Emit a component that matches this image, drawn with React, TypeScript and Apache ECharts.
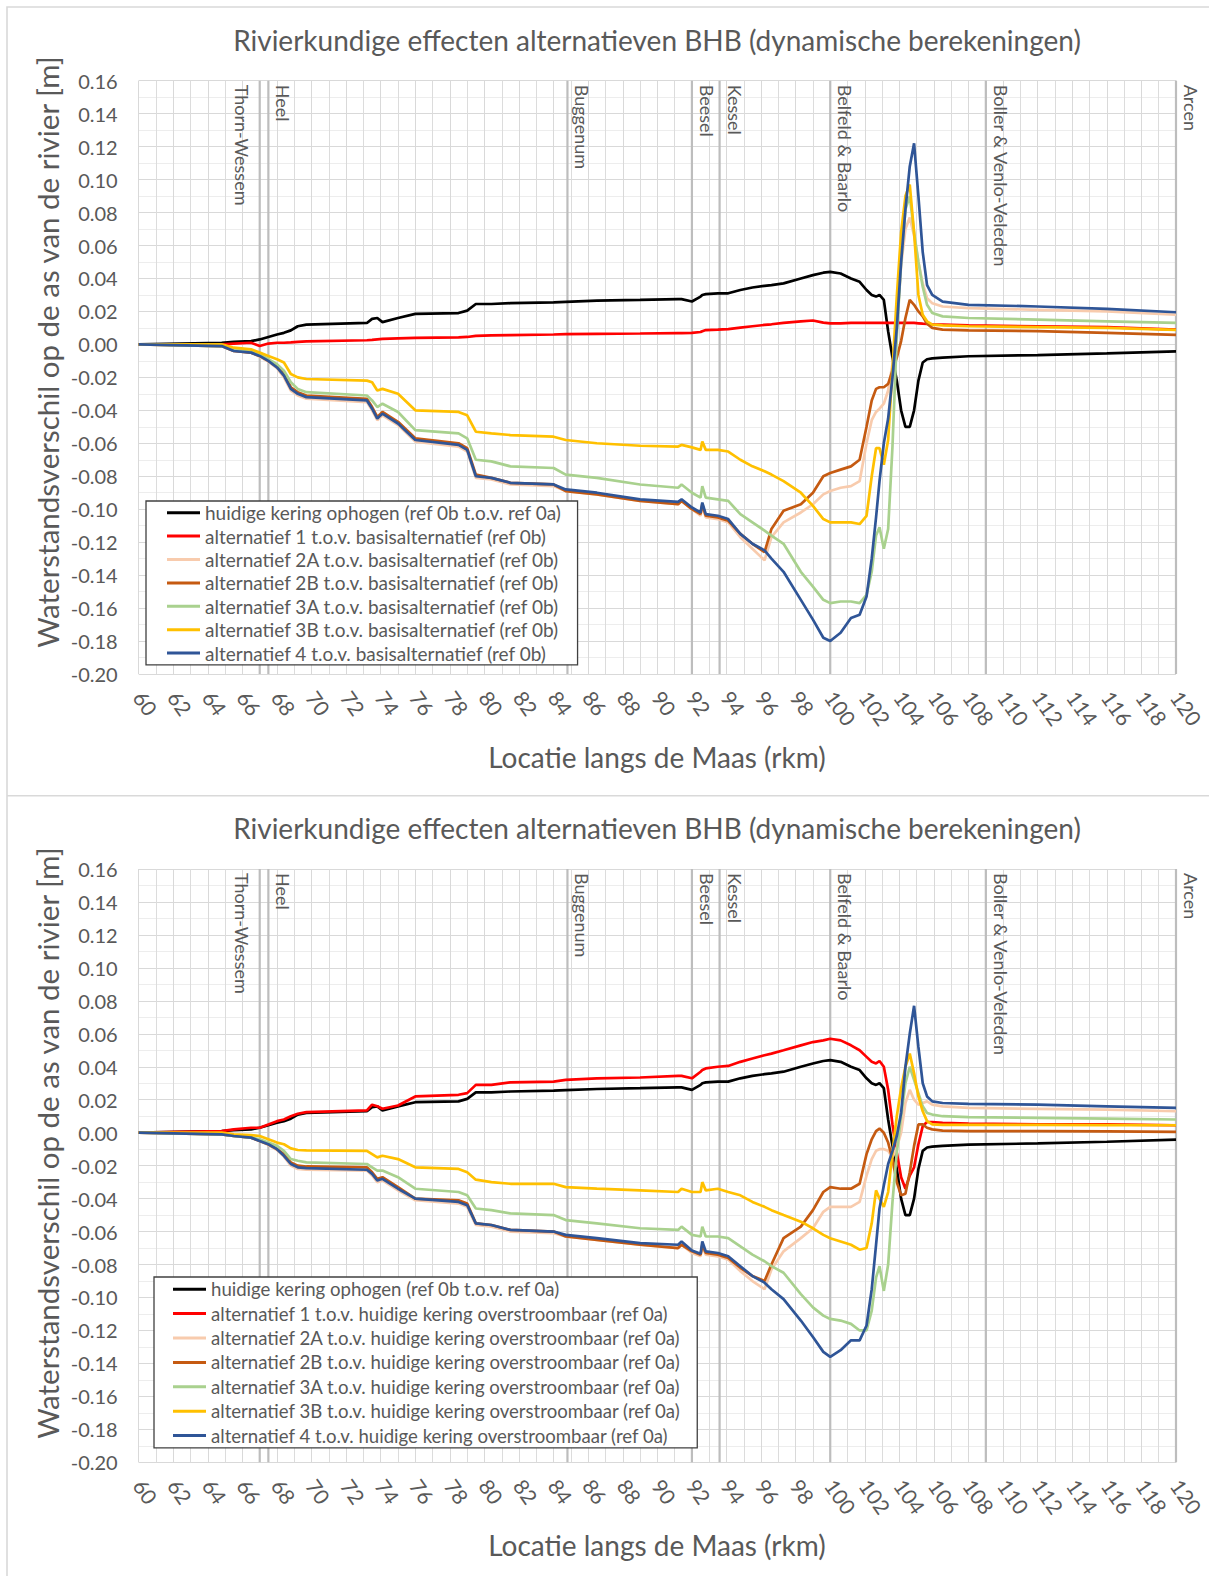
import React, { useEffect, useRef } from 'react';
import * as echarts from 'echarts';

// ---------- data ----------
const rkm = [
  60, 64.8, 65.5, 66.5, 67.0, 67.5, 68.0, 68.4, 68.8, 69.2,
  69.7, 73.2, 73.5, 73.8, 74.1, 75.0, 76.0, 78.5, 79.0, 79.5,
  80.4, 81.5, 84.0, 84.7, 86.5, 89.0, 91.2, 91.4, 92.0, 92.5,
  92.6, 92.8, 93.5, 94.1, 94.8, 95.5, 96.2, 96.6, 97.3, 98.3,
  99.0, 99.6, 100.0, 100.6, 101.2, 101.7, 102.1, 102.4, 102.65, 102.85,
  103.1, 103.35, 103.6, 103.85, 104.1, 104.35, 104.6, 104.85, 105.1, 105.35,
  105.6, 105.9, 106.5, 108, 112, 116, 120,
];

// black: huidige kering ophogen (same in both charts)
const keringOphogen = [
  0.0, 0.001, 0.0015, 0.002, 0.003, 0.0045, 0.006, 0.007, 0.0085, 0.011,
  0.012, 0.013, 0.0155, 0.016, 0.0135, 0.016, 0.0185, 0.019, 0.0205, 0.0245,
  0.0245, 0.025, 0.0255, 0.0258, 0.0265, 0.027, 0.0275, 0.0275, 0.026, 0.029,
  0.030, 0.0305, 0.031, 0.031, 0.033, 0.0345, 0.0355, 0.036, 0.037, 0.040,
  0.042, 0.0435, 0.044, 0.043, 0.040, 0.038, 0.033, 0.030, 0.029, 0.030,
  0.027, 0.008, -0.008, -0.022, -0.040, -0.050, -0.050, -0.040, -0.022, -0.011,
  -0.009, -0.0085, -0.008, -0.0072, -0.0065, -0.0055, -0.0042,
];

// top chart: t.o.v. basisalternatief (ref 0b)
const alt1Basis = [
  0, 0, 0.0005, 0.001, -0.001, 0.0005, 0.001, 0.001, 0.0012, 0.0015,
  0.0018, 0.0025, 0.0027, 0.003, 0.0033, 0.0037, 0.004, 0.0043, 0.0045, 0.0052,
  0.0055, 0.0056, 0.006, 0.0062, 0.0064, 0.0066, 0.0068, 0.0068, 0.007, 0.0075,
  0.008, 0.0087, 0.009, 0.0093, 0.0102, 0.011, 0.0118, 0.0122, 0.013, 0.014,
  0.0145, 0.0132, 0.0128, 0.0128, 0.013, 0.013, 0.013, 0.013, 0.013, 0.013,
  0.013, 0.013, 0.013, 0.013, 0.013, 0.013, 0.013, 0.013, 0.0128, 0.0126,
  0.0125, 0.0122, 0.012, 0.0115, 0.011, 0.0105, 0.009,
];
const alt2ABasis = [
  0, -0.001, -0.004, -0.005, -0.0075, -0.0105, -0.0145, -0.020, -0.028, -0.031,
  -0.033, -0.035, -0.040, -0.046, -0.043, -0.049, -0.059, -0.062, -0.065, -0.081,
  -0.082, -0.085, -0.086, -0.089, -0.091, -0.095, -0.097, -0.095, -0.100, -0.104,
  -0.098, -0.105, -0.106, -0.108, -0.117, -0.124, -0.131, -0.117, -0.108, -0.102,
  -0.097, -0.091, -0.089, -0.087, -0.086, -0.083, -0.060, -0.046, -0.041, -0.039,
  -0.036, -0.028, -0.012, 0.010, 0.048, 0.070, 0.077, 0.066, 0.050, 0.037,
  0.028, 0.025, 0.023, 0.022, 0.021, 0.020, 0.018,
];
const alt2BBasis = [
  0, -0.001, -0.004, -0.005, -0.007, -0.010, -0.0135, -0.018, -0.026, -0.029,
  -0.031, -0.033, -0.038, -0.044, -0.041, -0.047, -0.057, -0.060, -0.063, -0.079,
  -0.081, -0.084, -0.085, -0.089, -0.091, -0.095, -0.097, -0.095, -0.100, -0.103,
  -0.097, -0.104, -0.105, -0.107, -0.115, -0.121, -0.126, -0.112, -0.101, -0.097,
  -0.090, -0.080, -0.078, -0.076, -0.074, -0.070, -0.050, -0.034, -0.027, -0.026,
  -0.026, -0.024, -0.016, -0.008, 0.002, 0.016, 0.027, 0.024, 0.020, 0.017,
  0.0125, 0.010, 0.009, 0.0085, 0.008, 0.007, 0.0058,
];
const alt3ABasis = [
  0, -0.001, -0.003, -0.004, -0.006, -0.009, -0.012, -0.016, -0.023, -0.027,
  -0.029, -0.031, -0.034, -0.038, -0.036, -0.041, -0.052, -0.054, -0.057, -0.070,
  -0.071, -0.074, -0.075, -0.079, -0.081, -0.085, -0.087, -0.085, -0.090, -0.093,
  -0.086, -0.093, -0.094, -0.095, -0.103, -0.108, -0.113, -0.116, -0.121, -0.138,
  -0.147, -0.155, -0.157, -0.156, -0.156, -0.157, -0.152, -0.138, -0.116, -0.111,
  -0.124, -0.112, -0.062, 0.005, 0.050, 0.082, 0.090, 0.068, 0.050, 0.035,
  0.024, 0.019, 0.017, 0.016, 0.015, 0.014, 0.013,
];
const alt3BBasis = [
  0, 0, -0.002, -0.003, -0.005, -0.007, -0.009, -0.011, -0.018, -0.020,
  -0.021, -0.022, -0.023, -0.028, -0.027, -0.030, -0.040, -0.041, -0.043, -0.053,
  -0.054, -0.055, -0.056, -0.058, -0.060, -0.0615, -0.062, -0.061, -0.0625, -0.064,
  -0.059, -0.064, -0.064, -0.065, -0.070, -0.074, -0.077, -0.079, -0.083, -0.090,
  -0.098, -0.106, -0.108, -0.108, -0.108, -0.109, -0.104, -0.080, -0.063, -0.063,
  -0.073, -0.058, -0.015, 0.029, 0.068, 0.090, 0.097, 0.068, 0.030, 0.018,
  0.014, 0.012, 0.0115, 0.011, 0.0105, 0.010, 0.0088,
];
const alt4Basis = [
  0, -0.001, -0.004, -0.005, -0.007, -0.010, -0.014, -0.019, -0.027, -0.030,
  -0.032, -0.034, -0.039, -0.045, -0.042, -0.048, -0.058, -0.061, -0.064, -0.080,
  -0.081, -0.084, -0.085, -0.088, -0.090, -0.094, -0.0955, -0.094, -0.099, -0.102,
  -0.096, -0.103, -0.104, -0.106, -0.115, -0.121, -0.125, -0.130, -0.138, -0.155,
  -0.167, -0.178, -0.180, -0.175, -0.166, -0.164, -0.153, -0.130, -0.105, -0.083,
  -0.060, -0.045, -0.020, 0.010, 0.050, 0.082, 0.108, 0.122, 0.090, 0.056,
  0.036, 0.030, 0.026, 0.024, 0.023, 0.0215, 0.0195,
];

// bottom chart: t.o.v. huidige kering overstroombaar (ref 0a)
const alt1Ref0a = [
  0, 0.001, 0.002, 0.003, 0.003, 0.005, 0.007, 0.008, 0.010, 0.0115,
  0.0125, 0.0135, 0.017, 0.016, 0.0145, 0.0165, 0.022, 0.023, 0.024, 0.029,
  0.029, 0.0305, 0.031, 0.032, 0.033, 0.0335, 0.0345, 0.0345, 0.033, 0.037,
  0.038, 0.039, 0.040, 0.0405, 0.043, 0.045, 0.047, 0.048, 0.050, 0.053,
  0.055, 0.056, 0.057, 0.056, 0.053, 0.050, 0.046, 0.043, 0.042, 0.0435,
  0.040, 0.026, 0.005, -0.012, -0.027, -0.034, -0.026, -0.021, -0.007, 0.004,
  0.0065, 0.0065, 0.006, 0.0055, 0.005, 0.005, 0.0045,
];
const alt2ARef0a = [
  0, -0.001, -0.002, -0.003, -0.005, -0.0075, -0.0105, -0.0145, -0.020, -0.022,
  -0.0225, -0.023, -0.026, -0.030, -0.029, -0.035, -0.041, -0.043, -0.045, -0.056,
  -0.057, -0.060, -0.061, -0.063, -0.065, -0.068, -0.070, -0.068, -0.073, -0.075,
  -0.069, -0.074, -0.075, -0.077, -0.084, -0.090, -0.095, -0.083, -0.072, -0.064,
  -0.058, -0.048, -0.045, -0.045, -0.045, -0.042, -0.026, -0.016, -0.011, -0.010,
  -0.010, -0.011, -0.015, -0.009, 0.000, 0.018, 0.026, 0.020, 0.017, 0.018,
  0.019, 0.017, 0.016, 0.015, 0.0145, 0.014, 0.013,
];
const alt2BRef0a = [
  0, -0.001, -0.002, -0.003, -0.005, -0.007, -0.010, -0.013, -0.018, -0.020,
  -0.0205, -0.021, -0.024, -0.028, -0.027, -0.033, -0.040, -0.041, -0.043, -0.055,
  -0.056, -0.059, -0.060, -0.063, -0.065, -0.068, -0.070, -0.068, -0.072, -0.074,
  -0.068, -0.073, -0.074, -0.076, -0.082, -0.087, -0.090, -0.080, -0.064, -0.057,
  -0.047, -0.036, -0.033, -0.034, -0.034, -0.031, -0.013, -0.004, 0.001, 0.0025,
  0.000, -0.006, -0.016, -0.030, -0.038, -0.037, -0.024, -0.008, 0.005, 0.005,
  0.003, 0.002, 0.0013, 0.001, 0.001, 0.0008, 0.0005,
];
const alt3ARef0a = [
  0, -0.001, -0.002, -0.003, -0.004, -0.006, -0.008, -0.011, -0.016, -0.017,
  -0.018, -0.019, -0.021, -0.023, -0.023, -0.027, -0.034, -0.036, -0.038, -0.046,
  -0.047, -0.049, -0.050, -0.053, -0.055, -0.058, -0.059, -0.057, -0.062, -0.063,
  -0.057, -0.063, -0.063, -0.064, -0.069, -0.074, -0.078, -0.081, -0.085, -0.098,
  -0.106, -0.111, -0.113, -0.114, -0.116, -0.120, -0.120, -0.108, -0.088, -0.081,
  -0.096, -0.080, -0.042, -0.012, 0.010, 0.030, 0.040, 0.032, 0.024, 0.016,
  0.012, 0.011, 0.010, 0.0095, 0.009, 0.0085, 0.008,
];
const alt3BRef0a = [
  0, 0, -0.001, -0.0015, -0.002, -0.004, -0.006, -0.007, -0.0095, -0.0105,
  -0.0107, -0.011, -0.013, -0.015, -0.014, -0.016, -0.021, -0.022, -0.024, -0.0285,
  -0.030, -0.031, -0.031, -0.033, -0.034, -0.035, -0.036, -0.034, -0.036, -0.036,
  -0.030, -0.035, -0.034, -0.036, -0.038, -0.042, -0.045, -0.047, -0.050, -0.054,
  -0.058, -0.062, -0.064, -0.066, -0.068, -0.071, -0.070, -0.055, -0.035, -0.040,
  -0.045, -0.036, -0.012, 0.010, 0.027, 0.040, 0.048, 0.036, 0.022, 0.013,
  0.007, 0.005, 0.0048, 0.0048, 0.0047, 0.0046, 0.0045,
];
const alt4Ref0a = [
  0, -0.001, -0.002, -0.003, -0.005, -0.007, -0.010, -0.014, -0.019, -0.021,
  -0.0215, -0.0225, -0.025, -0.029, -0.028, -0.034, -0.040, -0.042, -0.044, -0.055,
  -0.056, -0.059, -0.060, -0.062, -0.064, -0.067, -0.068, -0.066, -0.0715, -0.0735,
  -0.066, -0.072, -0.073, -0.075, -0.081, -0.087, -0.091, -0.095, -0.101, -0.114,
  -0.124, -0.133, -0.136, -0.132, -0.126, -0.126, -0.117, -0.095, -0.068, -0.046,
  -0.032, -0.019, -0.011, -0.002, 0.012, 0.040, 0.060, 0.077, 0.052, 0.030,
  0.022, 0.019, 0.018, 0.0175, 0.017, 0.016, 0.015,
];

const topNames = [
  'huidige kering ophogen (ref 0b t.o.v. ref 0a)',
  'alternatief 1 t.o.v. basisalternatief (ref 0b)',
  'alternatief 2A t.o.v. basisalternatief (ref 0b)',
  'alternatief 2B t.o.v. basisalternatief (ref 0b)',
  'alternatief 3A t.o.v. basisalternatief (ref 0b)',
  'alternatief 3B t.o.v. basisalternatief (ref 0b)',
  'alternatief 4 t.o.v. basisalternatief (ref 0b)',
];
const bottomNames = [
  'huidige kering ophogen (ref 0b t.o.v. ref 0a)',
  'alternatief 1 t.o.v. huidige kering overstroombaar (ref 0a)',
  'alternatief 2A t.o.v. huidige kering overstroombaar (ref 0a)',
  'alternatief 2B t.o.v. huidige kering overstroombaar (ref 0a)',
  'alternatief 3A t.o.v. huidige kering overstroombaar (ref 0a)',
  'alternatief 3B t.o.v. huidige kering overstroombaar (ref 0a)',
  'alternatief 4 t.o.v. huidige kering overstroombaar (ref 0a)',
];

const locationNames = ['Thorn-Wessem', 'Heel', 'Buggenum', 'Beesel', 'Kessel', 'Belfeld & Baarlo', 'Boller & Venlo-Veleden', 'Arcen'];
const locationKm = [67.0, 67.5, 84.8, 92.0, 93.6, 100.0, 109.0, 120.0];

const chartTitle = 'Rivierkundige effecten alternatieven BHB (dynamische berekeningen)';
const yAxisTitle = 'Waterstandsverschil op de as van de rivier [m]';
const xAxisTitle = 'Locatie langs de Maas (rkm)';

// ---------- styling ----------
const seriesColors = ['#000000', '#ff0000', '#f8cbad', '#c55a11', '#a9d18e', '#ffc000', '#2f5597'];
const locationSide = ['left', 'right', 'right', 'right', 'right', 'right', 'right', 'right'];
const X_MIN = 60, X_MAX = 120, X_STEP = 2;
const Y_MIN = -0.2, Y_MAX = 0.16, Y_STEP = 0.02;
const FONT = 'Lato, "Noto Sans", sans-serif';
const TEXT = '#595959';

function buildOption(cfg: any) {
  const { names, values, gridTop, legendLeft, legendTop, legendPadLeft, rowH, legendFont, yNameY, titleY, borderY } = cfg;
  const lineSeries = names.map((name: string, i: number) => ({
    type: 'line',
    name,
    data: rkm.map((x, j) => [x, values[i][j]]),
    showSymbol: false,
    symbol: 'none',
    lineStyle: { color: seriesColors[i], width: 2.7 },
    itemStyle: { color: seriesColors[i] },
    z: 3,
    silent: true,
  }));
  const markerSeries = {
    type: 'custom',
    name: 'locaties',
    data: locationKm.map((km) => [km, Y_MAX]),
    clip: false,
    z: 2,
    silent: true,
    renderItem: (params: any, api: any) => {
      const i = params.dataIndex;
      const km = api.value(0);
      const p1 = api.coord([km, Y_MAX]);
      const p2 = api.coord([km, Y_MIN]);
      const left = locationSide[i] === 'left';
      return {
        type: 'group',
        children: [
          {
            type: 'line',
            shape: { x1: p1[0], y1: p1[1], x2: p2[0], y2: p2[1] },
            style: { stroke: '#bdbdbd', lineWidth: 2.2 },
          },
          {
            type: 'text',
            x: p1[0] + (left ? -9 : 6),
            y: p1[1] + 4,
            rotation: -Math.PI / 2,
            style: {
              text: locationNames[i],
              fill: TEXT,
              font: `18px ${FONT}`,
              align: 'left',
              verticalAlign: left ? 'top' : 'bottom',
            },
          },
        ],
      };
    },
  };
  const gridH = 593.3;
  return {
    animation: false,
    backgroundColor: '#ffffff',
    grid: { left: 138.7, top: gridTop, width: 1037.3, height: gridH, containLabel: false },
    xAxis: {
      type: 'value', min: X_MIN, max: X_MAX, interval: X_STEP,
      axisLine: { show: false }, axisTick: { show: false },
      axisLabel: { rotate: -55, color: TEXT, fontSize: 21, fontFamily: FONT, margin: 19 },
      splitLine: { show: true, lineStyle: { color: '#d9d9d9', width: 1 } },
      minorTick: { show: false, splitNumber: 2 },
      minorSplitLine: { show: true, lineStyle: { color: '#dcdcdc', width: 1 } },
    },
    yAxis: {
      type: 'value', min: Y_MIN, max: Y_MAX, interval: Y_STEP,
      axisLine: { show: false }, axisTick: { show: false },
      axisLabel: {
        color: TEXT, fontSize: 20, fontFamily: FONT, margin: 21,
        formatter: (v: number) => (Math.abs(v) < 1e-9 ? '0.00' : v.toFixed(2)),
      },
      splitLine: { show: true, lineStyle: { color: '#d9d9d9', width: 1 } },
      minorTick: { show: false, splitNumber: 2 },
      minorSplitLine: { show: true, lineStyle: { color: '#ededed', width: 1 } },
    },
    legend: {
      orient: 'vertical',
      left: legendLeft, top: legendTop,
      data: names,
      icon: 'rect', itemWidth: 33, itemHeight: 3, itemGap: 0,
      padding: [0, 16, 0, legendPadLeft],
      borderColor: '#404040', borderWidth: 1.3,
      backgroundColor: '#ffffff',
      selectedMode: false,
      textStyle: { color: TEXT, fontSize: legendFont, fontFamily: FONT, lineHeight: rowH },
    },
    graphic: [
      {
        type: 'rect', silent: true, z: -1,
        shape: { x: 7, y: borderY, width: 1230, height: 789 },
        style: { fill: 'none', stroke: '#d9d9d9', lineWidth: 1.6 },
      },
      {
        type: 'text', silent: true, x: 657, y: titleY,
        style: { text: chartTitle, font: `28px ${FONT}`, fill: TEXT, align: 'center', verticalAlign: 'middle' },
      },
      {
        type: 'text', silent: true, x: 47, y: yNameY, rotation: Math.PI / 2,
        style: { text: yAxisTitle, font: `29.5px ${FONT}`, fill: TEXT, align: 'center', verticalAlign: 'middle' },
      },
      {
        type: 'text', silent: true, x: 657, y: gridTop + gridH + 83,
        style: { text: xAxisTitle, font: `28px ${FONT}`, fill: TEXT, align: 'center', verticalAlign: 'middle' },
      },
    ],
    series: [markerSeries, ...lineSeries],
  };
}

const topOption = buildOption({
  names: topNames,
  values: [keringOphogen, alt1Basis, alt2ABasis, alt2BBasis, alt3ABasis, alt3BBasis, alt4Basis],
  gridTop: 80.7, legendLeft: 146, legendTop: 501, legendPadLeft: 21, rowH: 23.4, legendFont: 19,
  yNameY: 352, titleY: 40, borderY: 7,
});
const bottomOption = buildOption({
  names: bottomNames,
  values: [keringOphogen, alt1Ref0a, alt2ARef0a, alt2BRef0a, alt3ARef0a, alt3BRef0a, alt4Ref0a],
  gridTop: 74, legendLeft: 154, legendTop: 482, legendPadLeft: 19, rowH: 24.4, legendFont: 18.6,
  yNameY: 348, titleY: 33, borderY: 0.8,
});

function ChartPanel({ option, style }: { option: any; style: React.CSSProperties }) {
  const ref = useRef<HTMLDivElement>(null);
  useEffect(() => {
    if (!ref.current) return;
    const chart = echarts.init(ref.current, null, { renderer: 'svg' });
    chart.setOption(option);
    return () => chart.dispose();
  }, [option]);
  return <div ref={ref} style={style} />;
}

export default function App() {
  return (
    <div style={{ position: 'absolute', left: 0, top: 0, width: 1209, height: 1576, background: '#ffffff', overflow: 'hidden' }}>
      <ChartPanel option={topOption} style={{ position: 'absolute', left: 0, top: 0, width: 1209, height: 795 }} />
      <ChartPanel option={bottomOption} style={{ position: 'absolute', left: 0, top: 795, width: 1209, height: 781 }} />
    </div>
  );
}
